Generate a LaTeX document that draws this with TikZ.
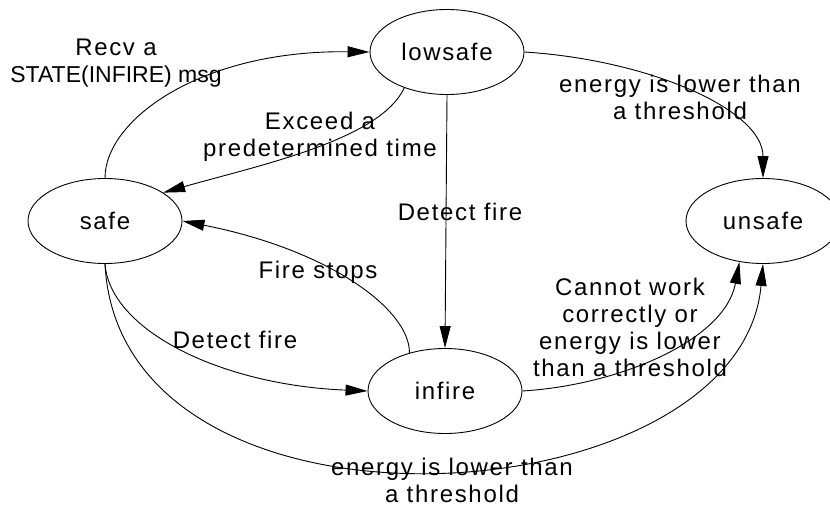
\documentclass[tikz,border=0pt]{standalone}
\usepackage{fontspec}
\setmainfont{Liberation Sans}[LetterSpace=7]
\usetikzlibrary{arrows.meta,shapes.geometric}
\begin{document}
\begin{tikzpicture}[x=1pt,y=-1pt,>={Triangle[length=22pt,width=11pt]},line width=0.9pt,every node/.style={font=\fontsize{24}{27}\selectfont},state/.style={draw,ellipse,minimum width=154pt,minimum height=85pt,inner sep=0pt},lbl/.style={align=center,inner sep=1pt}]
\useasboundingbox (0,0) rectangle (830,508);
\node[state] (safe) at (105,221) {safe};
\node[state] (lowsafe) at (447,52) {lowsafe};
\node[state] (infire) at (445,391) {infire};
\node[state] (unsafe) at (763,221) {unsafe};
\node[lbl] (recv) at (116,63) {Recv a\\\addfontfeatures{LetterSpace=0}\fontsize{23}{27}\selectfont STATE(INFIRE) msg};
\node[lbl] (exceed) at (320,137) {Exceed a\\predetermined time};
\node[lbl] (detectA) at (460,212) {Detect fire};
\node[lbl] (energyA) at (680,97) {energy is lower than\\a threshold};
\node[lbl] (stops) at (318,272) {Fire stops};
\node[lbl] (detectB) at (235,340) {Detect fire};
\node[lbl] (cannot) at (630,327) {Cannot work\\correctly or\\energy is lower\\than a threshold};
\node[lbl] (energyB) at (452,480) {energy is lower than\\a threshold};
\draw[->] (safe.north) .. controls (105,120) and (200,50) .. (lowsafe.west);
\draw[->] (lowsafe.-140) .. controls (380,140) and (260,165) .. (safe.26);
\draw[->] (lowsafe.south) -- (infire.north);
\draw[->] (lowsafe.east) .. controls (650,60) and (763,110) .. (unsafe.north);
\draw[->] (infire.133) .. controls (410,310) and (330,250) .. (safe.east);
\draw[->] (safe.south) .. controls (110,330) and (220,385) .. (infire.west);
\draw[->] (infire.east) .. controls (620,385) and (725,340) .. (unsafe.-120);
\draw[->] (safe.south) .. controls (120,560) and (740,520) .. (unsafe.south);
\end{tikzpicture}
\end{document}
